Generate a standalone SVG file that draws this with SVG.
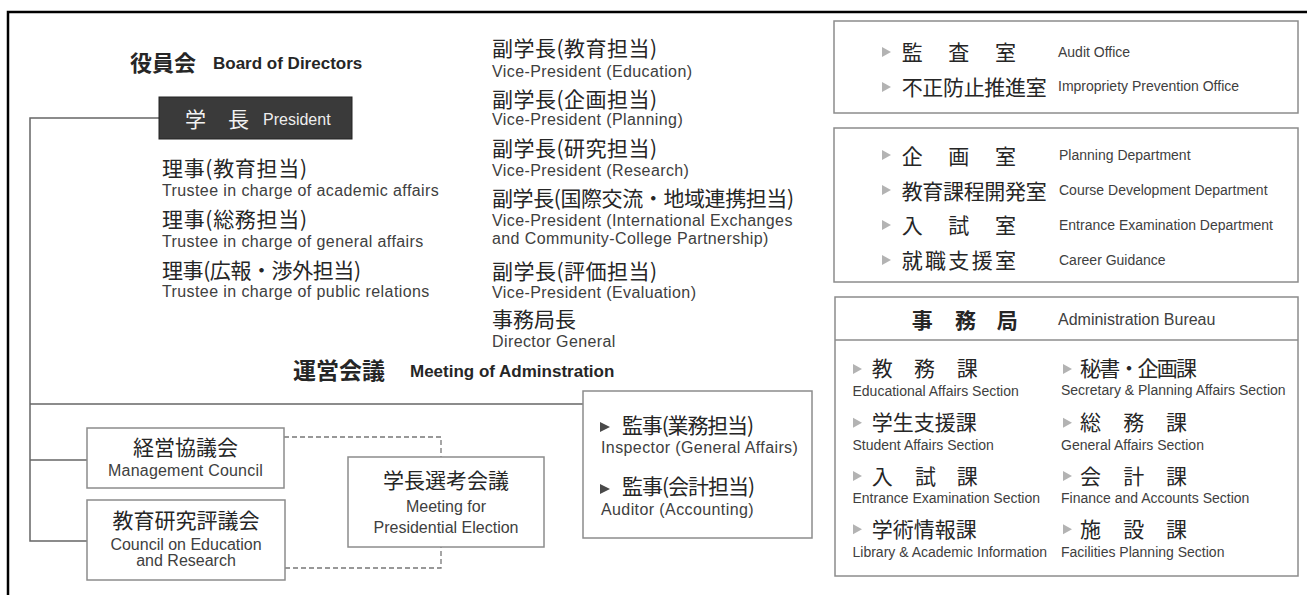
<svg xmlns="http://www.w3.org/2000/svg" xmlns:xlink="http://www.w3.org/1999/xlink" width="1307" height="595" viewBox="0 0 1307 595">
<style>
.jp{font-family:"Noto Sans CJK JP","Noto Sans CJK SC",sans-serif;font-size:21px;fill:#262626}
.jpb{font-family:"Noto Sans CJK JP","Noto Sans CJK SC",sans-serif;font-size:22px;font-weight:700;fill:#262626}
.en{font-family:"Liberation Sans",Arial,sans-serif;font-size:16px;letter-spacing:0.4px;fill:#404040}
.ens{font-family:"Liberation Sans",Arial,sans-serif;font-size:14px;fill:#404040}
.enb{font-family:"Liberation Sans",Arial,sans-serif;font-size:17px;font-weight:700;fill:#262626}
.mid{text-anchor:middle}
.box{fill:none;stroke:#8c8c8c;stroke-width:1.5}
.conn{fill:none;stroke:#666;stroke-width:1.5}
.dash{fill:none;stroke:#777;stroke-width:1.3;stroke-dasharray:5 3}
</style>
<defs>
<polygon id="triL" points="0,-5 9,0 0,5" fill="#b3b3b3"/>
<polygon id="triD" points="0,-5 10,0 0,5" fill="#4a4a4a"/>
</defs>
<rect width="1307" height="595" fill="#ffffff"/>
<path d="M8,595 V12 H1307" fill="none" stroke="#000" stroke-width="2.5"/>

<g id="connectors">
<path class="conn" d="M159,118 H30 V541 H87"/>
<path class="conn" d="M30,460 H87"/>
<path class="conn" d="M30,404 H583"/>
<path class="dash" d="M284,437 H441 V457"/>
<path class="dash" d="M285,568 H441 V547"/>
</g>

<g id="board">
<text class="jpb" x="130" y="71">役員会</text>
<text class="enb" x="213" y="69">Board of Directors</text>
</g>

<g id="president">
<rect x="159" y="97" width="193" height="42" fill="#3a3a3a" stroke="#222" stroke-width="1"/>
<text class="jp" x="185 228" y="127" style="fill:#f2f2f2">学長</text>
<text class="en" x="263" y="125" style="fill:#eeeeee;letter-spacing:0">President</text>
</g>

<g id="trustees">
<text class="jp" x="162" y="176" textLength="145" lengthAdjust="spacing">理事(教育担当)</text>
<text class="en" x="162" y="196">Trustee in charge of academic affairs</text>
<text class="jp" x="162" y="227" textLength="145" lengthAdjust="spacing">理事(総務担当)</text>
<text class="en" x="162" y="246.5">Trustee in charge of general affairs</text>
<text class="jp" x="162" y="278" textLength="199" lengthAdjust="spacing">理事(広報・渉外担当)</text>
<text class="en" x="162" y="296.5">Trustee in charge of public relations</text>
</g>

<g id="vice-presidents">
<text class="jp" x="492" y="55.5" textLength="165" lengthAdjust="spacing">副学長(教育担当)</text>
<text class="en" x="492" y="76.5">Vice-President (Education)</text>
<text class="jp" x="492" y="106.5" textLength="165" lengthAdjust="spacing">副学長(企画担当)</text>
<text class="en" x="492" y="124.5">Vice-President (Planning)</text>
<text class="jp" x="492" y="156" textLength="165" lengthAdjust="spacing">副学長(研究担当)</text>
<text class="en" x="492" y="175.5">Vice-President (Research)</text>
<text class="jp" x="492" y="205.5" textLength="302" lengthAdjust="spacing">副学長(国際交流・地域連携担当)</text>
<text class="en" x="492" y="226">Vice-President (International Exchanges</text>
<text class="en" x="492" y="243.5">and Community-College Partnership)</text>
<text class="jp" x="492" y="279" textLength="165" lengthAdjust="spacing">副学長(評価担当)</text>
<text class="en" x="492" y="298">Vice-President (Evaluation)</text>
<text class="jp" x="492" y="326.5">事務局長</text>
<text class="en" x="492" y="347">Director General</text>
</g>

<g id="meeting-admin">
<text class="jpb" x="293" y="379" style="font-size:23px">運営会議</text>
<text class="enb" x="410" y="377">Meeting of Adminstration</text>
</g>

<g id="management-council">
<rect class="box" x="87" y="428" width="197" height="60"/>
<text class="jp mid" x="185.5" y="455">経営協議会</text>
<text class="en mid" x="185.5" y="476" style="letter-spacing:0.2px">Management Council</text>
</g>

<g id="education-research-council">
<rect class="box" x="87" y="500" width="198" height="80"/>
<text class="jp mid" x="186" y="528">教育研究評議会</text>
<text class="en mid" x="186" y="549.5" style="letter-spacing:0">Council on Education</text>
<text class="en mid" x="186" y="566" style="letter-spacing:0">and Research</text>
</g>

<g id="presidential-election">
<rect class="box" x="348" y="457" width="196" height="90"/>
<text class="jp mid" x="446" y="488">学長選考会議</text>
<text class="en mid" x="446" y="512" style="letter-spacing:0">Meeting for</text>
<text class="en mid" x="446" y="533" style="letter-spacing:0">Presidential Election</text>
</g>

<g id="inspectors">
<rect class="box" x="583" y="391" width="229" height="147"/>
<use xlink:href="#triD" href="#triD" x="600" y="427"/>
<text class="jp" x="622" y="433" textLength="132" lengthAdjust="spacing">監事(業務担当)</text>
<text class="en" x="601" y="453">Inspector (General Affairs)</text>
<use xlink:href="#triD" href="#triD" x="600" y="489"/>
<text class="jp" x="622" y="494" textLength="133" lengthAdjust="spacing">監事(会計担当)</text>
<text class="en" x="601" y="515">Auditor (Accounting)</text>
</g>

<g id="audit-offices">
<rect class="box" x="834" y="21" width="464" height="92"/>
<use xlink:href="#triL" href="#triL" x="882" y="52"/>
<text class="jp" x="901.7 948.3 995" y="59.5">監査室</text>
<text class="ens" x="1058" y="56.5">Audit Office</text>
<use xlink:href="#triL" href="#triL" x="882" y="87"/>
<text class="jp" x="901.7" y="94.5" textLength="145" lengthAdjust="spacing">不正防止推進室</text>
<text class="ens" x="1058" y="91">Impropriety Prevention Office</text>
</g>

<g id="departments">
<rect class="box" x="834" y="128" width="464" height="154"/>
<use xlink:href="#triL" href="#triL" x="882" y="155"/>
<text class="jp" x="901.7 948.3 995" y="163.5">企画室</text>
<text class="ens" x="1059" y="160">Planning Department</text>
<use xlink:href="#triL" href="#triL" x="882" y="190"/>
<text class="jp" x="901.7" y="198.5" textLength="145" lengthAdjust="spacing">教育課程開発室</text>
<text class="ens" x="1059" y="194.5">Course Development Department</text>
<use xlink:href="#triL" href="#triL" x="882" y="225"/>
<text class="jp" x="901.7 948.3 995" y="233">入試室</text>
<text class="ens" x="1059" y="229.5">Entrance Examination Department</text>
<use xlink:href="#triL" href="#triL" x="882" y="260"/>
<text class="jp" x="901.7 925 948.3 971.7 995" y="268">就職支援室</text>
<text class="ens" x="1059" y="264.5">Career Guidance</text>
</g>

<g id="administration-bureau">
<rect class="box" x="835" y="297" width="463" height="279"/>
<path class="box" d="M835,340 H1298"/>
<text class="jp" x="911.7 955 996.7" y="328" style="font-weight:700">事務局</text>
<text class="en" x="1058" y="325" style="letter-spacing:0">Administration Bureau</text>

<use xlink:href="#triL" href="#triL" x="853" y="369"/>
<text class="jp" x="871.7 914 956.7" y="376">教務課</text>
<text class="ens" x="852.5" y="395.5">Educational Affairs Section</text>
<use xlink:href="#triL" href="#triL" x="853" y="422.7"/>
<text class="jp" x="871.7" y="430">学生支援課</text>
<text class="ens" x="852.5" y="449.5">Student Affairs Section</text>
<use xlink:href="#triL" href="#triL" x="853" y="476"/>
<text class="jp" x="871.7 915 956.7" y="483.5">入試課</text>
<text class="ens" x="852.5" y="503">Entrance Examination Section</text>
<use xlink:href="#triL" href="#triL" x="853" y="529.3"/>
<text class="jp" x="871.7" y="537">学術情報課</text>
<text class="ens" x="852.5" y="556.5">Library &amp; Academic Information</text>

<use xlink:href="#triL" href="#triL" x="1063" y="369"/>
<text class="jp" x="1080" y="376" textLength="117" lengthAdjust="spacing">秘書・企画課</text>
<text class="ens" x="1061" y="395">Secretary &amp; Planning Affairs Section</text>
<use xlink:href="#triL" href="#triL" x="1063" y="422.7"/>
<text class="jp" x="1080 1123.3 1166" y="430">総務課</text>
<text class="ens" x="1061" y="449.5">General Affairs Section</text>
<use xlink:href="#triL" href="#triL" x="1063" y="476"/>
<text class="jp" x="1080 1123.3 1166" y="483.5">会計課</text>
<text class="ens" x="1061" y="503">Finance and Accounts Section</text>
<use xlink:href="#triL" href="#triL" x="1063" y="529.3"/>
<text class="jp" x="1080 1123.3 1166" y="537">施設課</text>
<text class="ens" x="1061" y="556.5">Facilities Planning Section</text>
</g>
</svg>
